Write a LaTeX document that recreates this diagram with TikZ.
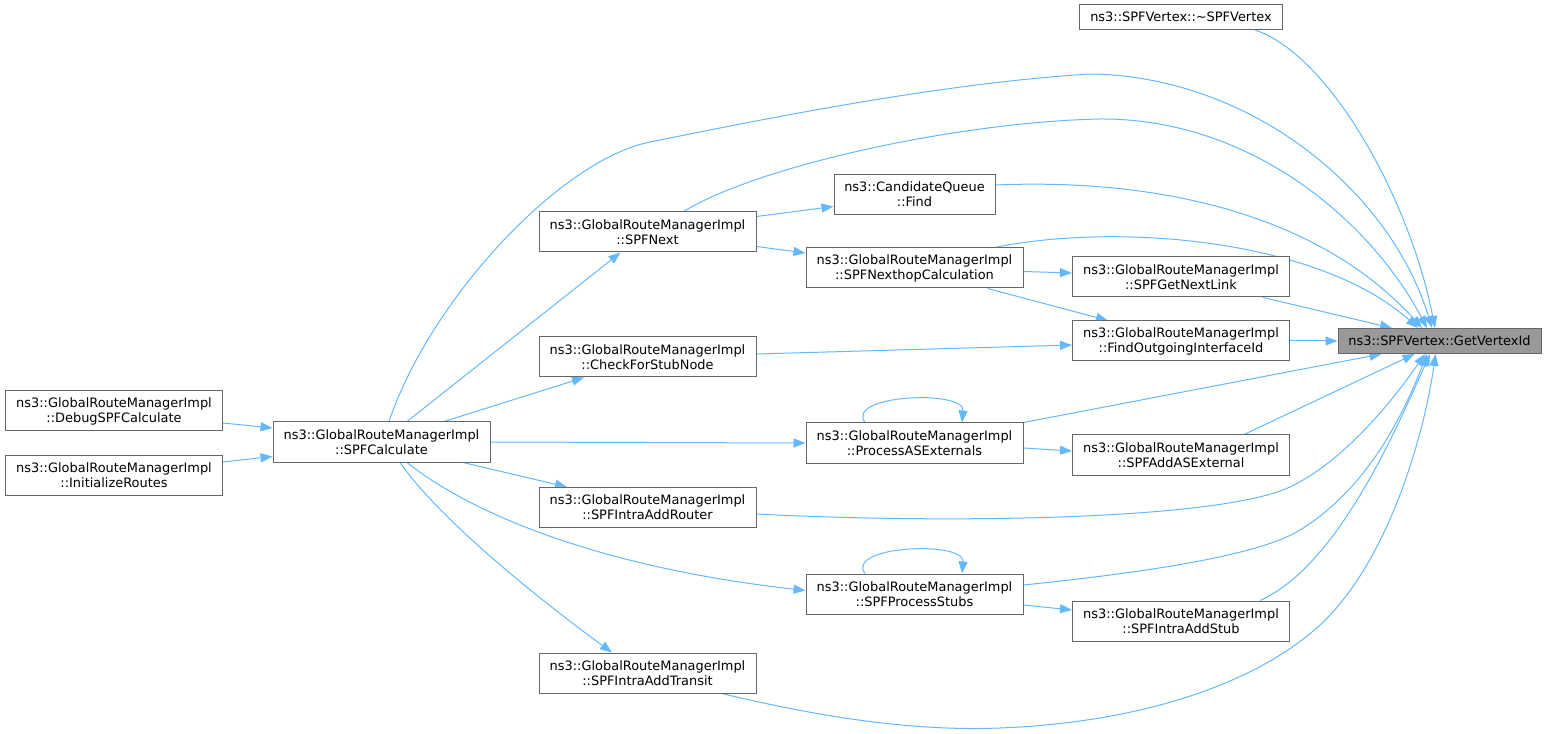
\documentclass[tikz,border=0pt]{standalone}
\usepackage{fontspec}
\setmainfont{DejaVu Sans}
\usepackage{tikz}
\usetikzlibrary{calc,arrows.meta,backgrounds}
\definecolor{edgeblue}{HTML}{63B8FF}
\definecolor{boxgray}{HTML}{666666}
\definecolor{fillgray}{HTML}{999999}
\newcommand{\edgecolor}{edgeblue}
\newcommand{\px}{0.75pt}

\begin{document}
\begin{tikzpicture}[x=\px, y=-\px,
  fn/.style={draw=boxgray, fill=white, line width=\px, align=center, inner sep=0pt,
    minimum width=217*\px, minimum height=40*\px, font=\fontsize{9.7}{11.3}\selectfont},
  small/.style={minimum width=203*\px, minimum height=25*\px},
  call/.style={draw=\edgecolor, line width=\px, -{Triangle[length=9pt, width=6.75pt]}}]
\useasboundingbox (0,0) rectangle (1547,734);
\node[fn] (1) at (1439.5, 341) [small, fill=fillgray] {ns3::SPFVertex::GetVertexId};
\node[fn] (2) at (1181, 17) [small] {ns3::SPFVertex::\textasciitilde SPFVertex};
\node[fn] (3) at (381.5, 442) {ns3::GlobalRouteManagerImpl\\::SPFCalculate};
\node[fn] (4) at (114, 411) {ns3::GlobalRouteManagerImpl\\::DebugSPFCalculate};
\node[fn] (5) at (114, 475) {ns3::GlobalRouteManagerImpl\\::InitializeRoutes};
\node[fn] (6) at (647.5, 232) {ns3::GlobalRouteManagerImpl\\::SPFNext};
\node[fn] (7) at (914.5, 194.5) [minimum width=161*\px] {ns3::CandidateQueue\\::Find};
\node[fn] (8) at (914.5, 268) {ns3::GlobalRouteManagerImpl\\::SPFNexthopCalculation};
\node[fn] (9) at (1181, 277) {ns3::GlobalRouteManagerImpl\\::SPFGetNextLink};
\node[fn] (10) at (1181, 341) {ns3::GlobalRouteManagerImpl\\::FindOutgoingInterfaceId};
\node[fn] (11) at (647.5, 357) {ns3::GlobalRouteManagerImpl\\::CheckForStubNode};
\node[fn] (12) at (914.5, 443) {ns3::GlobalRouteManagerImpl\\::ProcessASExternals};
\node[fn] (13) at (1181, 455) {ns3::GlobalRouteManagerImpl\\::SPFAddASExternal};
\node[fn] (14) at (647.5, 507.5) {ns3::GlobalRouteManagerImpl\\::SPFIntraAddRouter};
\node[fn] (15) at (914.5, 594) {ns3::GlobalRouteManagerImpl\\::SPFProcessStubs};
\node[fn] (16) at (1181, 621) {ns3::GlobalRouteManagerImpl\\::SPFIntraAddStub};
\node[fn] (17) at (647.5, 673) {ns3::GlobalRouteManagerImpl\\::SPFIntraAddTransit};
%into 1 from above
\begin{scope}[on background layer]
\draw[call] ($(2.south)+(74,0)$) .. controls (1330,55) and (1410,200) .. ($(1.north)+(-4.5,0)$);
\draw[call] ($(3.north)+(7.5,0)$) .. controls (430,300) and (560,160) .. (650,142)
  .. controls (740,124) and (930,84) .. (1090,74)
  .. controls (1250,76) and (1390,190) .. ($(1.north)+(-7.5,0)$);
\draw[call] ($(6.north)+(36,0)$) .. controls (760,165) and (960,122) .. (1100,119)
  .. controls (1250,118) and (1370,220) .. ($(1.north)+(-12.5,0)$);
\draw[call] ($(7.east)+(0,-9.5)$) .. controls (1160,178) and (1320,215) .. ($(1.north)+(-17.5,0)$);
\draw[call] ($(8.north)+(80,0)$) .. controls (1120,222) and (1320,240) .. ($(1.north)+(-21.5,0)$);
\draw[call] ($(9.south)+(82,0)$) -- ($(1.north)+(-47.5,0)$);
\draw[call] (10.east) -- (1.west);
\end{scope}
%into 1 from below
\begin{scope}[on background layer]
\draw[call] (12.north east) -- ($(1.south)+(-58,0)$);
\draw[call] ($(13.north)+(63,0)$) -- ($(1.south)+(-25,0)$);
\draw[call] ($(14.east)+(0,6.5)$) .. controls (950,524) and (1220,520) .. (1290,487)
  .. controls (1350,458) and (1400,390) .. ($(1.south)+(-14.5,0)$);
\draw[call] ($(15.east)+(0,-9)$) .. controls (1150,572) and (1260,555) .. (1300,530)
  .. controls (1370,487) and (1405,410) .. ($(1.south)+(-12.5,0)$);
\draw[call] ($(16.north)+(79,0)$) .. controls (1340,565) and (1400,420) .. ($(1.south)+(-9.5,0)$);
\draw[call] ($(17.south)+(74,0)$) .. controls (800,712) and (900,732) .. (1000,728)
  .. controls (1150,722) and (1260,680) .. (1320,625)
  .. controls (1390,560) and (1425,430) .. ($(1.south)+(-4,0)$);
\end{scope}
%the rest
\begin{scope}[on background layer]
\draw[call] ($(4.east)+(0,12)$) -- ($(3.west)+(0,-14)$);
\draw[call] ($(5.east)+(0,-13)$) -- ($(3.west)+(0,14.5)$);
\draw[call] ($(3.north)+(25.5,0)$) -- ($(6.south)+(-27,0)$);
\draw[call] ($(3.north)+(62.5,0)$) -- ($(11.south)+(-63.5,0)$);
\draw[call] (3.east) -- (12.west);
\draw[call] ($(3.south)+(81.5,0)$) -- ($(14.north)+(-80.5,0)$);
\draw[call] ($(3.south)+(25.5,0)$) .. controls (460,505) and (580,565) .. ($(15.west)+(0,-3.5)$);
\draw[call] ($(3.south)+(18.5,0)$) .. controls (440,520) and (540,600) .. ($(17.north)+(-35.5,0)$);
\draw[call] ($(6.east)+(0,-15.5)$) -- ($(7.west)+(0,12)$);
\draw[call] ($(6.east)+(0,14.5)$) -- ($(8.west)+(0,-15)$);
\draw[call] ($(8.east)+(0,3.5)$) -- ($(9.west)+(0,-4)$);
\draw[call] ($(8.south)+(73,0)$) -- ($(10.north)+(-73,0)$);
\draw[call] ($(11.east)+(0,-3)$) -- ($(10.west)+(0,4)$);
\draw[call] ($(12.north)+(-49.5,0)$) .. controls +(-20,-28) and +(3,-33) .. ($(12.north)+(47.5,0)$);
\draw[call] ($(12.east)+(0,5)$) -- ($(13.west)+(0,-4)$);
\draw[call] ($(15.north)+(-49.5,0)$) .. controls +(-20,-28) and +(3,-33) .. ($(15.north)+(47.5,0)$);
\draw[call] ($(15.east)+(0,11)$) -- ($(16.west)+(0,-11)$);
\end{scope}
\end{tikzpicture}
\end{document}
